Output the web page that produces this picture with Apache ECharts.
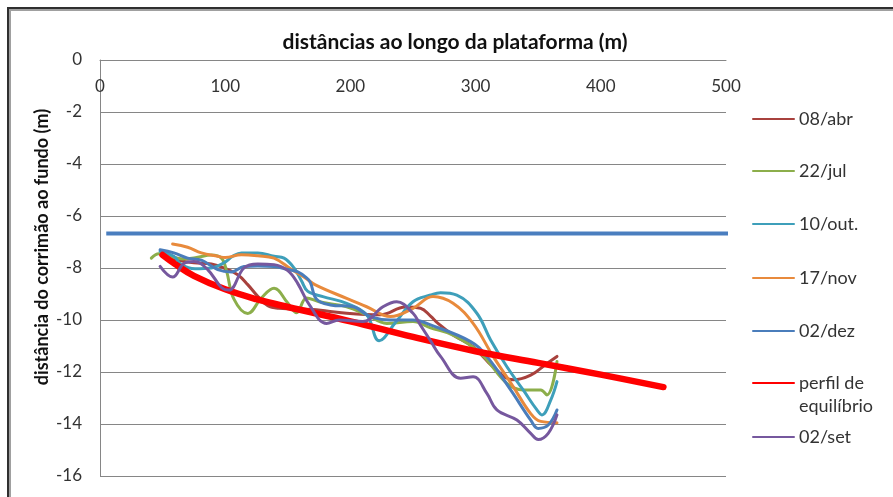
<!DOCTYPE html>
<html>
<head>
<meta charset="utf-8">
<script src="https://cdn.jsdelivr.net/npm/echarts@6/dist/echarts.min.js"></script>
<style>
  html, body { margin: 0; padding: 0; background: #ffffff; }
  #chart { width: 893px; height: 497px; }
</style>
</head>
<body>
<div id="chart"></div>
<script>
// Levantamentos: [distância ao longo da plataforma (m), distância do corrimão ao fundo (m)]
const abr08 = [[50,-7.5],[63,-7.7],[75,-7.8],[89,-7.85],[99,-8.0],[110,-8.26],[118,-8.64],[126,-9.09],[134,-9.45],[143,-9.55],[170,-9.6],[197,-9.74],[224,-9.8],[244,-9.5],[256,-9.55],[264,-9.85],[270,-10.13],[282,-10.58],[298,-11.03],[314,-11.8],[330,-12.3],[344,-12.12],[357,-11.67],[365,-11.4]];
const jul22 = [[41,-7.62],[47,-7.45],[56,-7.55],[66,-7.65],[77,-7.6],[89,-7.5],[97,-7.62],[101,-8.1],[107,-9.2],[118,-9.75],[129,-9.15],[139,-8.78],[150,-9.35],[157,-9.72],[165,-9.15],[175,-9.3],[197,-9.49],[213,-9.8],[229,-10.13],[250,-10.06],[264,-10.3],[282,-10.58],[304,-11.28],[325,-12.44],[338,-12.69],[352,-12.69],[357,-12.88],[365,-11.6]];
const out10 = [[48,-7.36],[59,-7.55],[65,-7.87],[76,-8.03],[89,-8.0],[99,-7.8],[106,-7.55],[113,-7.42],[126,-7.42],[139,-7.55],[147,-7.62],[155,-8.0],[161,-8.5],[166,-8.9],[178,-9.1],[197,-9.36],[213,-9.8],[223,-10.8],[236,-10.1],[250,-9.3],[264,-9.04],[272,-8.95],[285,-9.04],[301,-9.74],[312,-10.77],[325,-11.8],[338,-12.69],[349,-13.46],[353,-13.65],[360,-13.08],[365,-12.37]];
const nov17 = [[58,-7.08],[70,-7.2],[81,-7.42],[94,-7.55],[100,-7.6],[113,-7.49],[126,-7.53],[139,-7.62],[153,-8.06],[164,-8.38],[172,-8.65],[197,-9.17],[213,-9.49],[232,-9.87],[250,-9.55],[266,-9.1],[282,-9.36],[298,-10.13],[314,-11.4],[330,-12.56],[344,-13.6],[352,-13.9],[365,-13.95]];
const dez02 = [[48,-7.3],[59,-7.42],[70,-7.62],[81,-7.7],[94,-8.06],[105,-8.15],[115,-7.94],[126,-7.92],[139,-7.94],[150,-8.06],[158,-8.15],[165,-8.38],[168,-8.55],[173,-9.2],[184,-9.42],[202,-9.49],[216,-9.87],[232,-10.0],[250,-10.0],[264,-10.19],[296,-10.83],[309,-11.4],[328,-12.69],[344,-13.85],[350,-14.17],[358,-14.04],[365,-13.46]];
const set02 = [[48,-7.94],[58,-8.35],[67,-7.83],[75,-7.75],[86,-8.06],[97,-8.75],[103,-8.85],[115,-8.0],[126,-7.85],[139,-7.87],[150,-8.1],[158,-8.6],[167,-9.4],[181,-10.13],[191,-10.0],[210,-10.06],[226,-9.49],[237,-9.3],[250,-9.74],[256,-10.2],[264,-10.8],[272,-11.4],[288,-12.24],[298,-12.18],[309,-12.82],[317,-13.46],[333,-13.85],[344,-14.36],[350,-14.6],[358,-14.36],[365,-13.65]];
const perfilEquilibrio = [[50,-7.5],[60,-7.85],[75,-8.3],[100,-8.82],[125,-9.2],[150,-9.5],[200,-10.05],[250,-10.65],[300,-11.2],[350,-11.65],[400,-12.1],[450,-12.58]];
const nivelCorrimao = [[5,-6.67],[509,-6.67]];

const xTicks = [0, 100, 200, 300, 400, 500];
const yTicks = [0, -2, -4, -6, -8, -10, -12, -14, -16];

const seriesNames = ['08/abr', '22/jul', '10/out.', '17/nov', '02/dez', 'perfil de equilíbrio', '02/set'];
const seriesData = [abr08, jul22, out10, nov17, dez02, perfilEquilibrio, set02];
const seriesColors = ['#A8413D', '#8CAE4B', '#3E9FBA', '#E88A3C', '#4A7DBB', '#FF0000', '#76589E'];
const seriesWidths = [3, 3, 3, 3, 3, 6.5, 3];

const FONT = 'Lato, "Open Sans", sans-serif';

const chart = echarts.init(document.getElementById('chart'), null, { renderer: 'canvas' });

// one legend block per entry, stacked down the right side
const legendCenters = [118, 170, 223, 277, 330, 383, 436];
const legends = seriesNames.map((name, i) => {
  const multi = name === 'perfil de equilíbrio';
  return {
    data: [name],
    orient: 'vertical',
    left: 752,
    top: multi ? legendCenters[i] - 34.5 : legendCenters[i] - 10.5,
    padding: 0,
    itemWidth: 41,
    itemHeight: 14,
    itemGap: 0,
    selectedMode: false,
    itemStyle: { color: 'rgba(0,0,0,0)', opacity: 0, borderWidth: 0 },
    formatter: multi ? '\nperfil de\nequilíbrio' : '{name}',
    textStyle: { fontFamily: FONT, fontSize: 18, color: '#333', lineHeight: 23 }
  };
});

const series = seriesNames.map((name, i) => ({
  name: name,
  type: 'line',
  data: seriesData[i],
  smooth: 0.4,
  symbol: 'none',
  lineStyle: { color: seriesColors[i], width: seriesWidths[i], cap: 'round', join: 'round' },
  itemStyle: { color: seriesColors[i] },
  z: 3 + i
}));

series.unshift({
  name: 'nível',
  type: 'line',
  data: nivelCorrimao,
  symbol: 'none',
  clip: false,
  lineStyle: { color: '#4A7EBF', width: 4 },
  itemStyle: { color: '#4A7EBF' },
  z: 2
});

chart.setOption({
  backgroundColor: '#ffffff',
  animation: false,
  title: {
    text: 'distâncias ao longo da plataforma (m)',
    left: 450,
    top: 27,
    textAlign: 'center',
    textStyle: { fontFamily: FONT, fontSize: 21, fontWeight: 'bold', color: '#111' }
  },
  legend: legends,
  grid: { left: 100, right: 167, top: 60, bottom: 21, containLabel: false },
  xAxis: {
    type: 'value',
    position: 'top',
    min: xTicks[0],
    max: xTicks[xTicks.length - 1],
    interval: xTicks[1] - xTicks[0],
    axisLine: { show: true, lineStyle: { color: '#868686', width: 1 } },
    axisTick: { show: false },
    splitLine: { show: false },
    axisLabel: { inside: true, margin: 18, fontFamily: FONT, fontSize: 17, color: '#333' }
  },
  yAxis: {
    type: 'value',
    min: yTicks[yTicks.length - 1],
    max: yTicks[0],
    interval: yTicks[0] - yTicks[1],
    axisLine: { show: true, lineStyle: { color: '#868686', width: 1 } },
    axisTick: { show: false },
    splitLine: { show: true, lineStyle: { color: '#868686', width: 1 } },
    axisLabel: { margin: 18, fontFamily: FONT, fontSize: 17, color: '#333' }
  },
  graphic: [
    { type: 'rect', shape: { x: 8, y: 8, width: 1000, height: 1000 }, style: { fill: 'none', stroke: '#2f2f2f', lineWidth: 2 }, silent: true },
    { type: 'rect', shape: { x: 10, y: 10, width: 1000, height: 1000 }, style: { fill: 'none', stroke: '#a0a0a0', lineWidth: 2 }, silent: true },
    {
      type: 'text',
      x: 42,
      y: 247,
      rotation: Math.PI / 2,
      silent: true,
      style: {
        text: 'distância do corrimão ao fundo (m)',
        font: 'bold 18px ' + FONT,
        fill: '#111',
        align: 'center',
        verticalAlign: 'middle'
      }
    }
  ],
  series: series
});
</script>
</body>
</html>
